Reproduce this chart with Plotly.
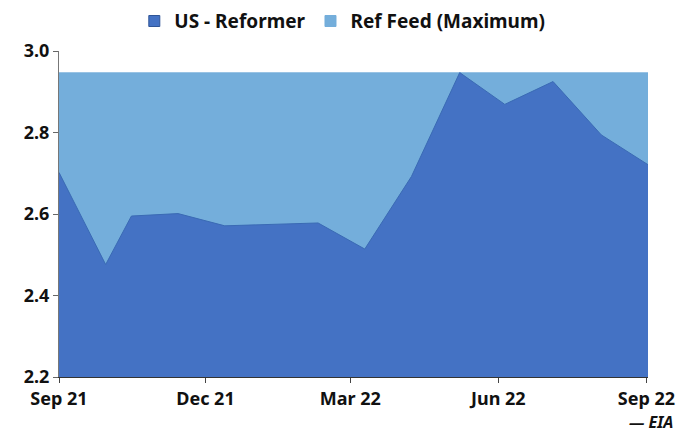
import plotly.graph_objects as go

# Data
dates = ["2021-09-01", "2021-09-30", "2021-10-16", "2021-11-14", "2021-12-13",
         "2022-01-11", "2022-02-09", "2022-03-10", "2022-04-08", "2022-05-08",
         "2022-06-05", "2022-07-05", "2022-08-04", "2022-09-02"]
us_reformer = [2.702, 2.476, 2.595, 2.601, 2.571, 2.574, 2.578, 2.514,
               2.692, 2.947, 2.869, 2.925, 2.794, 2.721]
ref_feed_max = [2.947] * len(dates)

tick_dates = ["2021-09-01", "2021-12-01", "2022-03-01", "2022-06-01", "2022-09-01"]
tick_labels = ["Sep 21", "Dec 21", "Mar 22", "Jun 22", "Sep 22"]
y_ticks = [2.2, 2.4, 2.6, 2.8, 3.0]

DARK = "#4472C4"
LIGHT = "#74AEDB"
FONT = "Noto Sans"
TXT = "#111111"

fig = go.Figure()
fig.add_trace(go.Scatter(x=dates, y=ref_feed_max, mode="lines", fill="tozeroy",
                         line=dict(color=LIGHT, width=0.5), fillcolor=LIGHT,
                         showlegend=False, hoverinfo="skip"))
fig.add_trace(go.Scatter(x=dates, y=us_reformer, mode="lines", fill="tozeroy",
                         line=dict(color="#3A6AB4", width=1), fillcolor=DARK,
                         showlegend=False, hoverinfo="skip"))
# legend entries
fig.add_trace(go.Scatter(x=[None], y=[None], mode="markers", name="US - Reformer",
                         marker=dict(symbol="square", size=11, color=DARK,
                                     line=dict(color="#2F5597", width=1))))
fig.add_trace(go.Scatter(x=[None], y=[None], mode="markers", name="Ref Feed (Maximum)",
                         marker=dict(symbol="square", size=11, color=LIGHT,
                                     line=dict(color=LIGHT, width=1))))

fig.update_layout(
    width=678, height=432,
    margin=dict(l=59, r=30, t=51, b=55, autoexpand=False),
    paper_bgcolor="white", plot_bgcolor="white",
    font=dict(family=FONT, size=16, color=TXT),
    legend=dict(orientation="h", x=0.481, xanchor="center",
                yref="container", y=0.995, yanchor="top",
                font=dict(family=FONT, size=19, color=TXT, weight="bold"),
                itemwidth=30, tracegroupgap=0),
    annotations=[dict(text="<b><i>— EIA</i></b>", xref="paper", yref="paper",
                      x=1.045, y=-0.139, xanchor="right", yanchor="middle", showarrow=False,
                      font=dict(family=FONT, size=16, color=TXT))],
)
fig.update_xaxes(type="date", range=["2021-09-01", "2022-09-02"],
                 tickvals=tick_dates, ticktext=tick_labels,
                 ticks="outside", ticklen=5, tickcolor="#444444",
                 showline=True, linecolor="#333333", linewidth=1,
                 showgrid=False, zeroline=False,
                 tickfont=dict(family=FONT, size=18, color=TXT, weight="bold"))
fig.update_yaxes(range=[2.2, 3.0], tickvals=y_ticks, tickformat=".1f",
                 ticks="outside", ticklen=5, tickcolor="#666666",
                 showline=True, linecolor="#777777", linewidth=1,
                 showgrid=False, zeroline=False,
                 tickfont=dict(family=FONT, size=18, color=TXT, weight="bold"))

fig.write_html("out.html", config={"displayModeBar": False},
               post_script="document.body.style.margin='0';")
